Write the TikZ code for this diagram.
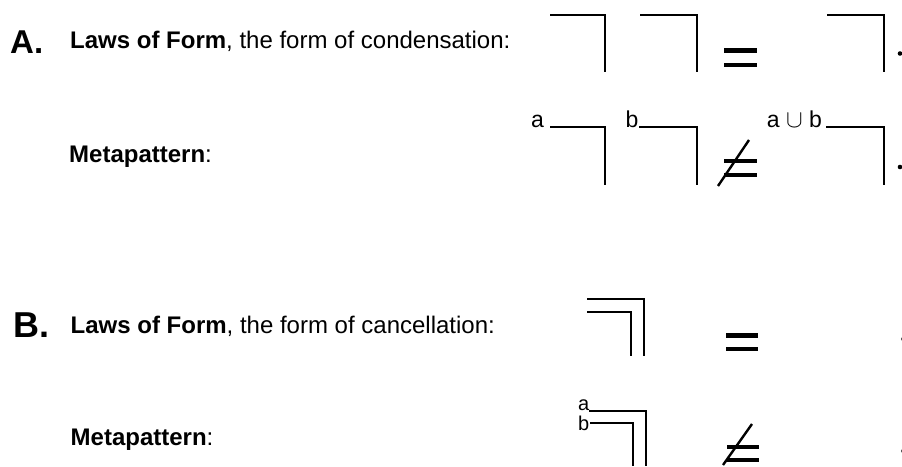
\documentclass[tikz,border=0pt]{standalone}
\usepackage{fontspec}
\setmainfont{Liberation Sans}
\begin{document}
\begin{tikzpicture}[x=1pt,y=-1pt,
  crossline/.style={line width=1.5pt},
  eqbar/.style={line width=4.6pt},
  neqslash/.style={line width=2.4pt},
  caption/.style={anchor=base west, inner sep=0pt, font=\fontsize{24}{28}\selectfont},
  partlabel/.style={anchor=base west, inner sep=0pt, font=\bfseries\fontsize{#1}{#1}\selectfont},
  varlabel/.style={anchor=base east, inner sep=0pt, font=\fontsize{#1}{#1}\selectfont},
  enddot/.style={fill=black}]
\useasboundingbox (0,0) rectangle (902,466);

% ---------- A: condensation ----------
\node[partlabel=33] (partA) at (10,53) {A.};
\node[caption] (capA) at (70,48) {\textbf{Laws of Form}, the form of condensation:};
\draw[crossline] (550,15) -| (605,72);
\draw[crossline] (640,15) -| (697,72);
\draw[eqbar] (724,50.5) -- (757,50.5);
\draw[eqbar] (724,65) -- (757,65);
\draw[crossline] (827,15) -| (884,72);
\fill[enddot] (900,53.5) circle (2.3);

\node[caption] (metaA) at (69,162) {\textbf{Metapattern}:};
\node[varlabel=23] (va) at (544,127) {a};
\draw[crossline] (550,127) -| (605,185);
\node[varlabel=23] (vb) at (638.5,127) {b};
\draw[crossline] (639,127) -| (697,185);
\draw[eqbar] (724,161) -- (757,161);
\draw[eqbar] (724,175) -- (757,175);
\draw[neqslash] (718,186) -- (749,140);
\node[varlabel=23] (vab) at (822,127) {a $\cup$ b};
\draw[crossline] (826,127) -| (884,185);
\fill[enddot] (900,167) circle (2.3);

% ---------- B: cancellation ----------
\node[partlabel=36] (partB) at (13,337) {B.};
\node[caption] (capB) at (70.5,333) {\textbf{Laws of Form}, the form of cancellation:};
\draw[crossline] (587,299) -| (644,356);
\draw[crossline] (587,312) -| (631,356);
\draw[eqbar] (726,335.5) -- (758,335.5);
\draw[eqbar] (726,349) -- (758,349);
\fill[enddot] (903.5,339) circle (2.3);

\node[caption] (metaB) at (70.5,445) {\textbf{Metapattern}:};
\node[varlabel=20] (wa) at (589.5,410.5) {a};
\node[varlabel=20] (wb) at (589.5,430) {b};
\draw[crossline] (589,411) -| (646,466);
\draw[crossline] (590,423) -| (633,466);
\draw[eqbar] (727,447) -- (759,447);
\draw[eqbar] (727,460) -- (759,460);
\draw[neqslash] (723,465) -- (752,424);
\fill[enddot] (903.5,451) circle (2.3);
\end{tikzpicture}
\end{document}
